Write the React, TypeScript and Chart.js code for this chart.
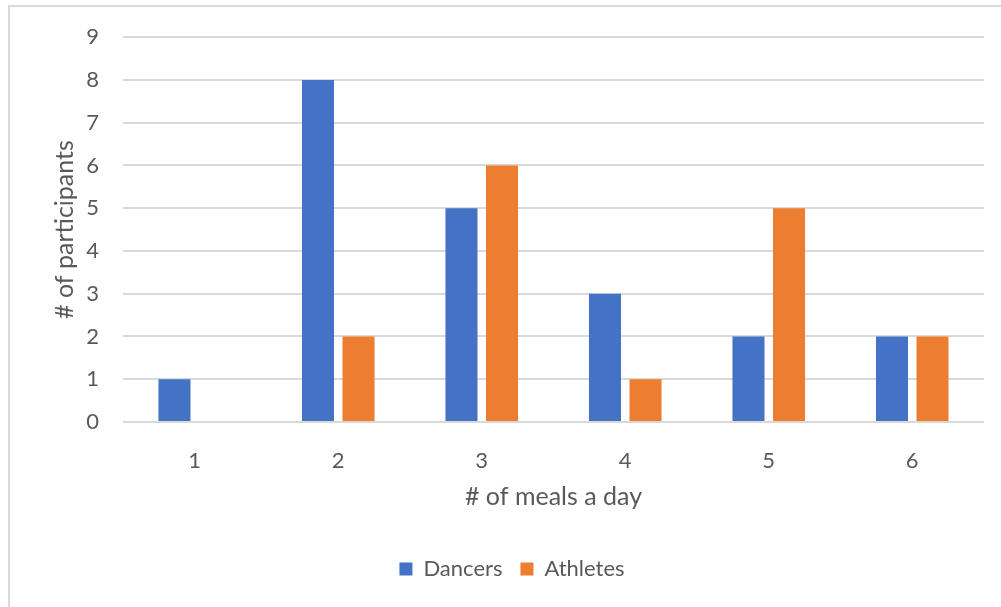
import React, { useEffect, useRef } from "react";
import { Chart, registerables } from "chart.js";

Chart.register(...registerables);

const categories = ["1", "2", "3", "4", "5", "6"];
const dancers = [1, 8, 5, 3, 2, 2];
const athletes = [0, 2, 6, 1, 5, 2];
const yTicks = [0, 1, 2, 3, 4, 5, 6, 7, 8, 9];

const FONT = "Lato, 'Open Sans', sans-serif";
const TEXT = "#595959";
const GRID = "#d9d9d9";

export default function App() {
  const ref = useRef<HTMLCanvasElement | null>(null);

  useEffect(() => {
    if (!ref.current) return;
    const chart = new Chart(ref.current, {
      type: "bar",
      data: {
        labels: categories,
        datasets: [
          {
            label: "Dancers",
            data: dancers,
            backgroundColor: "#4472C4",
            barPercentage: 0.79,
            categoryPercentage: 0.565,
          },
          {
            label: "Athletes",
            data: athletes,
            backgroundColor: "#ED7D31",
            barPercentage: 0.79,
            categoryPercentage: 0.565,
          },
        ],
      },
      options: {
        animation: false,
        responsive: false,
        maintainAspectRatio: false,
        layout: { padding: { left: 40, right: 17, top: 37, bottom: 17 } },
        plugins: {
          tooltip: { enabled: false },
          legend: {
            position: "bottom",
            labels: {
              font: { family: FONT, size: 22 },
              color: TEXT,
              boxWidth: 13,
              boxHeight: 13,
              padding: 18,
            },
          },
        },
        scales: {
          x: {
            grid: { display: false, drawTicks: false },
            border: { display: false },
            ticks: { font: { family: FONT, size: 22 }, color: TEXT, padding: 26 },
            title: {
              display: true,
              text: "# of meals a day",
              font: { family: FONT, size: 25 },
              color: TEXT,
              padding: { top: 0, bottom: 28 },
            },
            afterFit: (s: any) => {
              s.height = 118;
            },
          },
          y: {
            min: 0,
            max: 9,
            afterBuildTicks: (s: any) => {
              s.ticks = yTicks.map((v) => ({ value: v }));
            },
            grid: { color: GRID, lineWidth: 2, drawTicks: false },
            border: { display: false },
            ticks: { font: { family: FONT, size: 22 }, color: TEXT, padding: 24 },
            title: {
              display: true,
              text: "# of participants",
              font: { family: FONT, size: 25 },
              color: TEXT,
              padding: { top: 10, bottom: 0 },
            },
            afterFit: (s: any) => {
              s.width = 83;
            },
          },
        },
      },
    });
    return () => chart.destroy();
  }, []);

  return (
    <div
      style={{
        position: "fixed",
        left: 0,
        top: 0,
        width: 1001,
        height: 607,
        overflow: "hidden",
        background: "#fff",
      }}
    >
      <div
        style={{
          position: "absolute",
          left: 8,
          top: 5,
          width: 1200,
          height: 800,
          border: "2px solid #d9d9d9",
        }}
      />
      <canvas
        ref={ref}
        width={1001}
        height={607}
        style={{ position: "absolute", left: 0, top: 0, width: 1001, height: 607 }}
      />
    </div>
  );
}
